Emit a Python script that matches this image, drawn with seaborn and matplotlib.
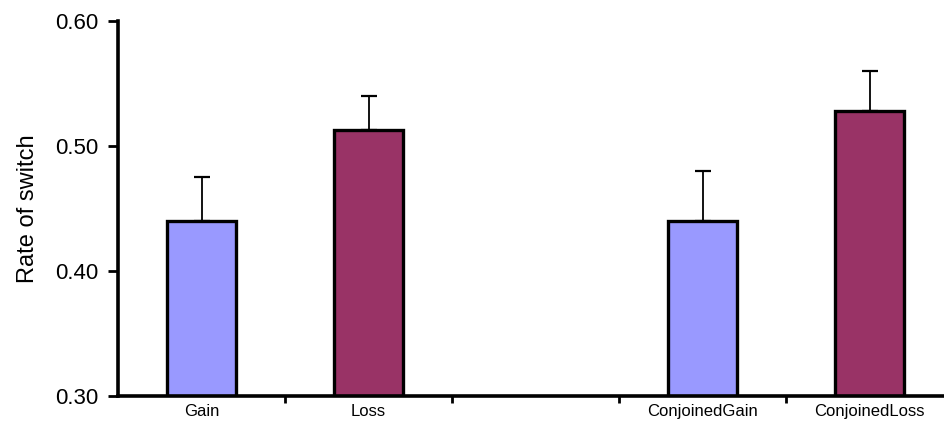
import matplotlib
matplotlib.use('Agg')
import matplotlib.pyplot as plt
import seaborn as sns
import pandas as pd

# Valeurs
conditions = ['Gain', 'Loss', 'ConjoinedGain', 'ConjoinedLoss']
taux = [0.440, 0.513, 0.440, 0.528]
erreurs = [0.035, 0.027, 0.040, 0.032]
couleurs = ['#9999FF', '#993366', '#9999FF', '#993366']

# Ordre des catégories, avec un emplacement vide au milieu
ordre = ['Gain', 'Loss', ' ', 'ConjoinedGain', 'ConjoinedLoss']

data = pd.DataFrame({'condition': conditions, 'taux': taux, 'erreur': erreurs})

sns.set_style('white')
plt.rcParams['font.family'] = ['Liberation Sans', 'DejaVu Sans']
plt.rcParams['text.color'] = 'black'
plt.rcParams['axes.labelcolor'] = 'black'
plt.rcParams['xtick.color'] = 'black'
plt.rcParams['ytick.color'] = 'black'

fig = plt.figure(figsize=(9.44, 4.30), dpi=100)
ax = fig.add_axes([0.125, 0.079, 0.875, 0.872])

sns.barplot(data=data, x='condition', y='taux', hue='condition', order=ordre,
            palette=dict(zip(conditions, couleurs)), width=0.41, saturation=1,
            edgecolor='black', linewidth=2.4, legend=False, ax=ax)

# Barres d'erreur vers le haut seulement
positions = [ordre.index(c) for c in conditions]
ax.errorbar(positions, data['taux'], yerr=[[0] * len(erreurs), data['erreur']],
            fmt='none', ecolor='black', elinewidth=1.3, capsize=6,
            capthick=1.6, zorder=1)

ax.set_ylim(0.30, 0.60)
ax.set_xlim(-0.5, 4.446)
ax.set_yticks([0.30, 0.40, 0.50, 0.60])
ax.set_yticklabels(['0.30', '0.40', '0.50', '0.60'], fontsize=16)
ax.set_ylabel('Rate of switch', fontsize=17, labelpad=12)
ax.set_xlabel('')
ax.tick_params(axis='x', which='major', length=0, labelsize=12, pad=6)
ax.set_xticks([0.5, 1.5, 2.5, 3.5], minor=True)
ax.tick_params(axis='x', which='minor', length=5, width=2, direction='out',
               color='black', bottom=True)
ax.tick_params(axis='y', length=7, width=2, direction='out', color='black',
               left=True, pad=7)

sns.despine(ax=ax)
for s in ['left', 'bottom']:
    ax.spines[s].set_linewidth(2.6)
    ax.spines[s].set_color('black')

fig.savefig('out.png', dpi=100)
